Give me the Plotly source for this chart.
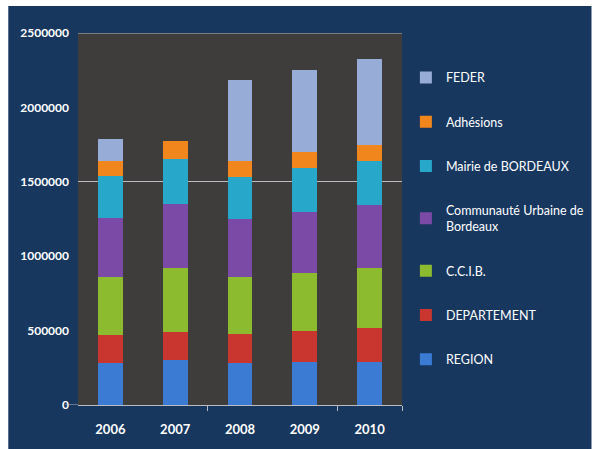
import plotly.graph_objects as go

# Funding by source, 2006-2010 (euros)
years = ["2006", "2007", "2008", "2009", "2010"]

region = [280000, 303000, 280000, 291000, 291000]
departement = [191000, 190000, 195000, 209000, 225000]
ccib = [392000, 431000, 384000, 390000, 408000]
cub = [393000, 428000, 394000, 410000, 421000]
mairie = [280000, 300000, 278000, 290000, 296000]
adhesions = [107000, 119000, 110000, 112000, 108000]
feder = [144000, 0, 545000, 551000, 576000]

series_names = [
    "REGION",
    "DEPARTEMENT",
    "C.C.I.B.",
    "Communauté Urbaine de<br>Bordeaux",
    "Mairie de BORDEAUX",
    "Adhésions",
    "FEDER",
]
series_values = [region, departement, ccib, cub, mairie, adhesions, feder]
series_colors = ["#3b7bd4", "#c8362f", "#8cbb2f", "#7b4aa6", "#27a7c9", "#f0861c", "#98acd8"]

y_ticks = [0, 500000, 1000000, 1500000, 2000000, 2500000]
grid_ticks = [1500000, 2500000]

NAVY = "#17375f"
PLOT_BG = "#3f3d3b"
LINE = "#b9bcc2"
FONT = "Lato"

fig = go.Figure()
n = len(series_names)
for i, (name, vals, col) in enumerate(zip(series_names, series_values, series_colors)):
    fig.add_trace(go.Bar(
        x=years, y=vals, name=name,
        marker=dict(color=col, line=dict(width=0)),
        width=0.38, legendgroup=name,
        legendrank=n - i,  # top segment listed first
    ))

fig.update_layout(
    width=601, height=449,
    barmode="stack",
    paper_bgcolor="white",
    plot_bgcolor=PLOT_BG,
    margin=dict(l=78, r=193, t=33, b=44),
    font=dict(family=FONT, color="white"),
    showlegend=True,
    legend=dict(
        x=1.012, y=0.92, xanchor="left", yanchor="top",
        traceorder="grouped", tracegroupgap=25,
        bgcolor="rgba(0,0,0,0)",
        font=dict(family=FONT, size=12.5, color="white"),
        itemwidth=30,
    ),
    xaxis=dict(
        type="category",
        showgrid=False, showline=True, linecolor=LINE, linewidth=1,
        ticks="", ticklabelstandoff=12,
        tickfont=dict(family=FONT, size=13, color="white", weight="bold"),
        zeroline=False,
    ),
    xaxis2=dict(
        overlaying="x", range=[-0.5, 4.5], showticklabels=False,
        tickvals=[1.5, 3.5, 4.5], ticks="outside", ticklen=5,
        tickcolor=LINE, showgrid=False, zeroline=False, side="bottom",
    ),
    yaxis=dict(
        range=[0, 2500000], tickvals=y_ticks, tickformat="d",
        showgrid=False, zeroline=False, showline=False,
        ticks="", ticklabelstandoff=8,
        tickfont=dict(family=FONT, size=12, color="white", weight="bold"),
    ),
    yaxis2=dict(
        overlaying="y", matches="y", tickvals=grid_ticks,
        showticklabels=False, showgrid=True, gridcolor=LINE, gridwidth=1,
        zeroline=False,
    ),
    shapes=[
        # navy frame behind the whole chart
        dict(type="rect", xref="paper", yref="paper", layer="below",
             x0=(7 - 78) / 330, x1=(601 - 78) / 330,
             y0=-(449 - 405) / 372, y1=(405 - 6) / 372,
             fillcolor=NAVY, line=dict(width=0)),
        # dark plotting area on top of the frame
        dict(type="rect", xref="paper", yref="paper", layer="below",
             x0=0, x1=1, y0=0, y1=1,
             fillcolor=PLOT_BG, line=dict(width=0)),
        # category axis line reaching past the value axis
        dict(type="line", xref="paper", yref="y",
             x0=(65 - 78) / 330, x1=0, y0=0, y1=0,
             line=dict(color=LINE, width=1)),
        # gridline at the top of the value range
        dict(type="line", xref="paper", yref="y", layer="below",
             x0=0, x1=1, y0=grid_ticks[-1], y1=grid_ticks[-1],
             line=dict(color=LINE, width=1)),
    ],
)

# invisible helper trace that brings the overlay axes to life
fig.add_trace(go.Scatter(x=[0], y=[0], xaxis="x2", yaxis="y2", mode="markers",
                         marker=dict(opacity=0), showlegend=False, hoverinfo="skip"))

fig.write_html("out.html")
